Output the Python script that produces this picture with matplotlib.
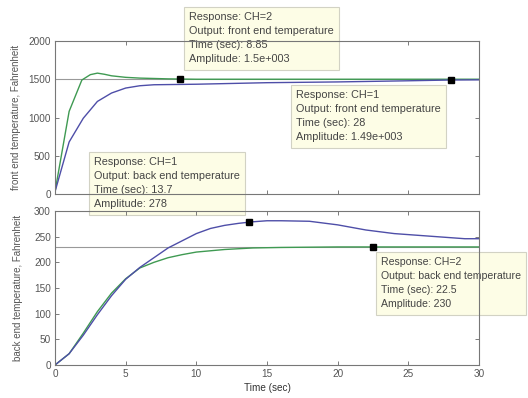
import matplotlib
matplotlib.use("Agg")
from matplotlib import pyplot as plt

plt.rcParams['font.family'] = ['Liberation Sans', 'DejaVu Sans']

# front end temperature (top)
t_front_ch2 = [0, 1, 1.9, 2.5, 3, 3.5, 4, 5, 6, 8, 10, 15, 20, 25, 30]
y_front_ch2 = [30, 1080, 1490, 1560, 1580, 1565, 1545, 1525, 1515, 1505, 1500, 1500, 1500, 1500, 1500]
t_front_ch1 = [0, 1, 2, 3, 4, 5, 6, 7, 10, 15, 20, 25, 28, 30]
y_front_ch1 = [30, 680, 990, 1210, 1320, 1385, 1415, 1428, 1435, 1455, 1465, 1480, 1490, 1492]

# back end temperature (bottom)
t_back_ch1 = [0, 1, 2, 3, 4, 5, 6, 7, 8, 9, 10, 11, 12, 13, 14, 15, 16, 18, 20, 22, 24, 26, 28, 29, 30]
y_back_ch1 = [0, 22, 58, 98, 135, 167, 190, 209, 228, 242, 256, 266, 272, 276, 279, 281, 281, 280, 273, 263, 256, 252, 248, 246, 246]
t_back_ch2 = [0, 1, 2, 3, 4, 5, 6, 7, 8, 9, 10, 12, 14, 16, 20, 30]
y_back_ch2 = [0, 22, 62, 104, 140, 168, 189, 200, 209, 215, 220, 225, 228, 229, 230, 230]

final_front = 1500
final_back = 230

# data tips: (time, amplitude)
tip_front_ch2 = (8.85, 1500)
tip_front_ch1 = (28, 1490)
tip_back_ch1 = (13.7, 278)
tip_back_ch2 = (22.5, 230)

green = '#3f9a52'
blue = '#4e4ea8'
grey_txt = '#555555'
W, H = 528, 398

fig = plt.figure(figsize=(5.28, 3.98), dpi=100)
fig.patch.set_facecolor('white')
ax1 = fig.add_axes([55 / W, 1 - 194 / H, 424 / W, 153 / H])
ax2 = fig.add_axes([55 / W, 1 - 365 / H, 424 / W, 154 / H])

for ax in (ax1, ax2):
    ax.set_facecolor('none')
    ax.set_xlim(0, 30)
    ax.set_xticks(range(0, 31, 5))
    ax.tick_params(direction='in', top=True, right=True, length=3, width=0.6,
                   color='#666666', labelsize=7.2, labelcolor=grey_txt, pad=3)
    for s in ax.spines.values():
        s.set_color('#777777')
        s.set_linewidth(0.8)

ax1.axhline(final_front, color='#999999', lw=0.8)
ax1.plot(t_front_ch2, y_front_ch2, color=green, lw=1.0)
ax1.plot(t_front_ch1, y_front_ch1, color=blue, lw=1.0)
ax1.plot(*tip_front_ch2, 's', color='black', ms=5)
ax1.plot(*tip_front_ch1, 's', color='black', ms=5)
ax1.set_ylim(0, 2000)
ax1.set_yticks(range(0, 2001, 500))
ax1.tick_params(labelbottom=False)
ax1.set_ylabel('front end temperature, Fahrenheit', fontsize=7, color=grey_txt, labelpad=5)

ax2.axhline(final_back, color='#999999', lw=0.8)
ax2.plot(t_back_ch2, y_back_ch2, color=green, lw=1.0)
ax2.plot(t_back_ch1, y_back_ch1, color=blue, lw=1.0)
ax2.plot(*tip_back_ch1, 's', color='black', ms=5)
ax2.plot(*tip_back_ch2, 's', color='black', ms=5)
ax2.set_ylim(0, 300)
ax2.set_yticks(range(0, 301, 50))
ax2.set_ylabel('back end temperature, Fahrenheit', fontsize=7, color=grey_txt, labelpad=8)
ax2.set_xlabel('Time (sec)', fontsize=7.2, color='#333333', labelpad=3)


def tip(ax, x, y, lines, size=7.8):
    ax.text(x / W, 1 - y / H, '\n'.join(lines), transform=fig.transFigure,
            ha='left', va='top', fontsize=size, color='#444444', linespacing=1.52,
            zorder=2, clip_on=False,
            bbox=dict(boxstyle='square,pad=0.5', fc='#fdfde6', ec='#d2d2c4', lw=0.8))


tip(ax1, 189, 12, ['Response: CH=2', 'Output: front end temperature',
                   'Time (sec): %g' % tip_front_ch2[0], 'Amplitude: 1.5e+003'])
tip(ax1, 296, 90, ['Response: CH=1', 'Output: front end temperature',
                   'Time (sec): %g' % tip_front_ch1[0], 'Amplitude: 1.49e+003'])
tip(ax1, 94, 157, ['Response: CH=1', 'Output: back end temperature',
                   'Time (sec): %g' % tip_back_ch1[0], 'Amplitude: %g' % tip_back_ch1[1]])
tip(ax2, 381, 257, ['Response: CH=2', 'Output: back end temperature',
                    'Time (sec): %g' % tip_back_ch2[0], 'Amplitude: %g' % tip_back_ch2[1]], size=7.6)

plt.savefig('out.png', dpi=100)
